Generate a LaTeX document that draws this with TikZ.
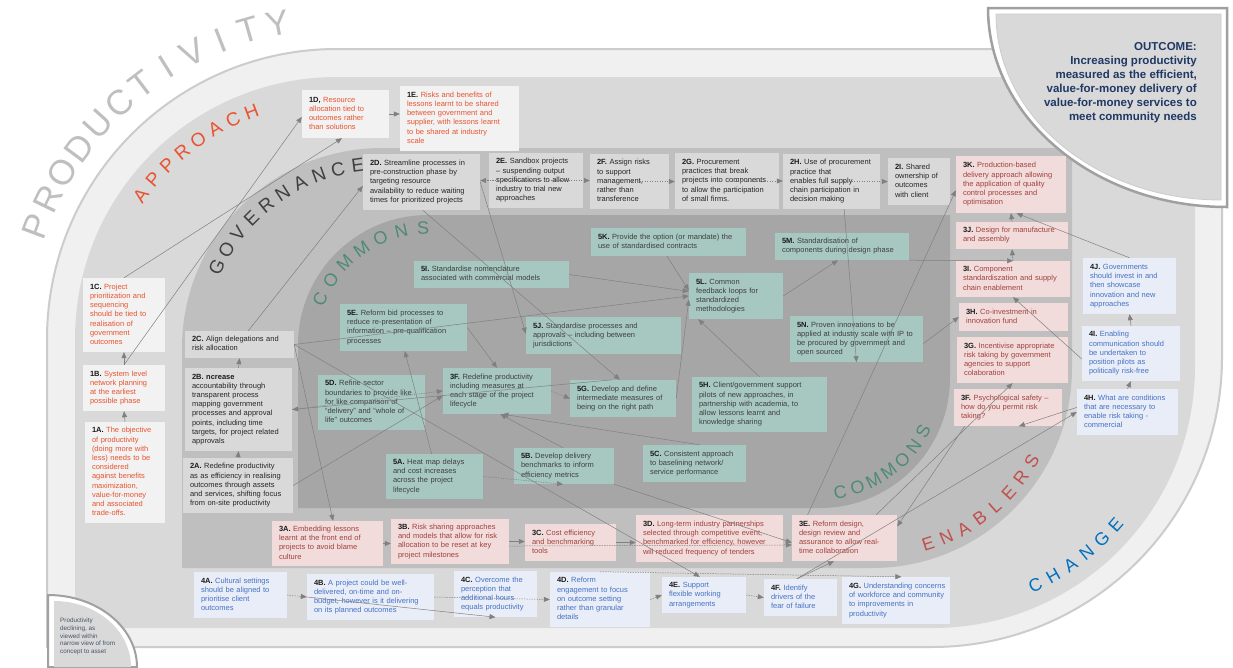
\documentclass[tikz,border=0pt]{standalone}
\usepackage{fontspec}
\setmainfont{Liberation Sans}
\usetikzlibrary{calc,arrows.meta}
\definecolor{bandAc}{HTML}{F0F0F0}
\definecolor{bandAl}{HTML}{CCCCCC}
\definecolor{bandBc}{HTML}{D9D9D9}
\definecolor{bandCc}{HTML}{BFBFBF}
\definecolor{bandDc}{HTML}{A6A6A6}
\definecolor{labc}{HTML}{1A1A1A}
\definecolor{apfill}{HTML}{F2F2F2}
\definecolor{aptext}{HTML}{E9532F}
\definecolor{govfill}{HTML}{D9D9D9}
\definecolor{govtext}{HTML}{262626}
\definecolor{enfill}{HTML}{F2DCDB}
\definecolor{entext}{HTML}{A0413D}
\definecolor{chfill}{HTML}{E9EDF7}
\definecolor{chtext}{HTML}{4472C4}
\definecolor{cmfill}{HTML}{A7C8C0}
\definecolor{cmtext}{HTML}{3F3F3F}
\definecolor{lineg}{HTML}{808080}
\definecolor{prodc}{HTML}{BFBFBF}
\definecolor{govword}{HTML}{404040}
\definecolor{comword}{HTML}{4E8B76}
\definecolor{enword}{HTML}{C0504D}
\definecolor{chword}{HTML}{0070C0}
\definecolor{outc}{HTML}{1F3864}
\definecolor{discc}{HTML}{44546A}
\definecolor{framec}{HTML}{A0A0A0}
\newcommand{\lb}[1]{\textcolor{labc}{\bfseries #1}}
\newcommand{\bx}[7]{%
  \pgfmathsetmacro\bw{#5-#3}%
  \pgfmathsetmacro\bh{#6-#4}%
  \pgfmathsetmacro\btw{#5-#3-14}%
  \pgfmathsetmacro\bcx{(#3+#5)/2}%
  \pgfmathsetmacro\bcy{(#4+#6)/2}%
  \node[box,#2,minimum width=\bw pt,minimum height=\bh pt,text width=\btw pt] (#1) at (\bcx,\bcy) {\begin{tabular}{@{}l@{}}#7\end{tabular}};%
}
\newcommand{\arcTL}[8]{%
  \foreach \ch [count=\i from 0] in {#8} {%
    \pgfmathsetmacro\ang{#5+\i*(#6)}%
    \pgfmathsetmacro\rot{-\ang-90}%
    \node[#7,rotate=\rot] (#1\i) at ($(#2,#3)+(\ang:#4)$) {\ch};
  }}
\newcommand{\arcBR}[8]{%
  \foreach \ch [count=\i from 0] in {#8} {%
    \pgfmathsetmacro\ang{#5+\i*(#6)}%
    \pgfmathsetmacro\rot{90-\ang}%
    \node[#7,rotate=\rot] (#1\i) at ($(#2,#3)+(\ang:#4)$) {\ch};
  }}
\begin{document}
\begin{tikzpicture}[x=1pt,y=-1pt,
  box/.style={inner xsep=0pt,inner ysep=1pt,align=left,font=\fontsize{7.5}{9.2}\selectfont,draw=none},
  sAp/.style={fill=apfill,text=aptext},
  sGv/.style={fill=govfill,text=govtext},
  sEn/.style={fill=enfill,text=entext},
  sCh/.style={fill=chfill,text=chtext},
  sCm/.style={fill=cmfill,text=cmtext},
  wProd/.style={font=\fontsize{35}{35}\selectfont,text=prodc,inner sep=0pt},
  wAp/.style={font=\fontsize{19}{19}\selectfont,text=aptext,inner sep=0pt},
  wGv/.style={font=\fontsize{19}{19}\selectfont,text=govword,inner sep=0pt},
  wCm/.style={font=\fontsize{18}{18}\selectfont,text=comword,inner sep=0pt},
  wEn/.style={font=\fontsize{18}{18}\selectfont,text=enword,inner sep=0pt},
  wCh/.style={font=\fontsize{18}{18}\selectfont,text=chword,inner sep=0pt},
  cn/.style={draw=lineg,line width=0.5pt,-{Triangle[length=6pt,width=5pt]}},
  cd/.style={cn,dash pattern=on 1.3pt off 1.2pt}]
\useasboundingbox (0,0) rectangle (1233,667);
\fill[white] (0,0) rectangle (1233,667);
% bands
\path[fill=bandAc,draw=bandAl,line width=2pt] (47,647) -- (47,339) arc[start angle=180,end angle=270,radius=290] -- (1222,49) -- (1222,357) arc[start angle=0,end angle=90,radius=290] -- cycle;
\path[fill=bandBc] (75,628) -- (75,339) arc[start angle=180,end angle=270,radius=262] -- (1195,77) -- (1195,366) arc[start angle=0,end angle=90,radius=262] -- cycle;
\path[fill=bandCc] (182,568) -- (182,348) arc[start angle=180,end angle=270,radius=200] -- (1072,148) -- (1072,368) arc[start angle=0,end angle=90,radius=200] -- cycle;
\path[fill=bandDc] (298,508) -- (298,345) arc[start angle=180,end angle=270,radius=130] -- (950,215) -- (950,378) arc[start angle=0,end angle=90,radius=130] -- cycle;
% outcome quarter
\path[fill=white,draw=framec,line width=2.5pt] (1227,8) -- (988,8) arc[start angle=180,end angle=90,x radius=239,y radius=199] -- cycle;
\path[fill=bandBc,draw=bandAl,line width=0.8pt] (1221,14) -- (996,14) arc[start angle=180,end angle=90,x radius=225,y radius=186] -- cycle;
\node[anchor=north east,align=right,inner sep=0pt,text=outc,font=\bfseries\fontsize{11.5}{14}\selectfont] (outcome) at (1197,42) {OUTCOME:\\Increasing productivity\\measured as the efficient,\\value-for-money delivery of\\value-for-money services to\\meet community needs};
% bottom-left quarter
\path[fill=white,draw=framec,line width=2pt] (48,667) -- (48,595) arc[start angle=270,end angle=360,x radius=89,y radius=72] -- cycle;
\path[fill=bandBc] (54,667) -- (54,601) arc[start angle=270,end angle=360,x radius=77,y radius=66] -- cycle;
\node[anchor=north west,align=left,inner sep=0pt,text=discc,font=\fontsize{6.3}{7.7}\selectfont] (decl) at (60,618) {Productivity\\declining, as\\viewed within\\narrow view of from\\concept to asset};
% ring words
\arcTL{pr}{337}{339}{321}{200.5}{5.35}{wProd}{P,R,O,D,U,C,T,I,V,I,T,Y}
\arcTL{ap}{337}{339}{243}{216.2}{4.74}{wAp}{A,P,P,R,O,A,C,H}
\arcTL{gv}{382}{348}{184}{206}{6.27}{wGv}{G,O,V,E,R,N,A,N,C,E}
\arcTL{ct}{428}{345}{117}{203}{10.77}{wCm}{C,O,M,M,O,N,S}
\arcBR{cb}{820}{378}{116}{80}{-8.8}{wCm}{C,O,M,M,O,N,S}
\arcBR{en}{872}{368}{185}{72.3}{-6}{wEn}{E,N,A,B,L,E,R,S}
\arcBR{chg}{933}{366}{242}{65}{-4.8}{wCh}{C,H,A,N,G,E}
% approach boxes
\bx{n1D}{sAp}{302}{90}{389}{138}{\lb{1D,} Resource\\allocation tied to\\outcomes rather\\than solutions}
\bx{n1E}{sAp}{400}{86}{519}{151}{\lb{1E.} Risks and benefits of\\lessons learnt to be shared\\between government and\\supplier, with lessons learnt\\to be shared at industry\\scale}
\bx{n1C}{sAp}{83}{278}{165}{352}{\lb{1C.} Project\\prioritization and\\sequencing\\should be tied to\\realisation of\\government\\outcomes}
\bx{n1B}{sAp}{83}{365}{165}{411}{\lb{1B.} System level\\network planning\\at the earliest\\possible phase}
\bx{n1A}{sAp}{85}{422}{165}{523}{\lb{1A.} The objective\\of productivity\\(doing more with\\less) needs to be\\considered\\against benefits\\maximization,\\value-for-money\\and associated\\trade-offs.}
% governance boxes
\bx{n2C}{sGv}{185}{331}{294}{358}{\lb{2C.} Align delegations and\\risk allocation}
\bx{n2B}{sGv}{185}{368}{292}{451}{\lb{2B. ncrease}\\accountability through\\transparent process\\mapping government\\processes and approval\\points, including time\\targets, for project related\\approvals}
\bx{n2A}{sGv}{183}{458}{293}{513}{\lb{2A.} Redefine productivity\\as as efficiency in realising\\outcomes through assets\\and services, shifting focus\\from on-site productivity}
\bx{n2D}{sGv}{363}{154}{480}{210}{\lb{2D.} Streamline processes in\\pre-construction phase by\\targeting resource\\availability to reduce waiting\\times for prioritized projects}
\bx{n2E}{sGv}{489}{153}{583}{208}{\lb{2E.} Sandbox projects\\– suspending output\\specifications to allow\\industry to trial new\\approaches}
\bx{n2F}{sGv}{590}{154}{669}{209}{\lb{2F.} Assign risks\\to support\\management,\\rather than\\transference}
\bx{n2G}{sGv}{675}{153}{779}{209}{\lb{2G.} Procurement\\practices that break\\projects into components\\to allow the participation\\of small firms.}
\bx{n2H}{sGv}{783}{154}{880}{209}{\lb{2H.} Use of procurement\\practice that\\enables full supply\\chain participation in\\decision making}
\bx{n2I}{sGv}{888}{158}{950}{205}{\lb{2I.} Shared\\ownership of\\outcomes\\with client}
% enablers boxes
\bx{n3K}{sEn}{956}{156}{1066}{213}{\lb{3K.} Production-based\\delivery approach allowing\\the application of quality\\control processes and\\optimisation}
\bx{n3J}{sEn}{956}{222}{1068}{249}{\lb{3J.} Design for manufacture\\and assembly}
\bx{n3I}{sEn}{956}{261}{1070}{297}{\lb{3I.} Component\\standardiszation and supply\\chain enablement}
\bx{n3H}{sEn}{959}{303}{1068}{331}{\lb{3H.} Co-investment in\\innovation fund}
\bx{n3G}{sEn}{957}{337}{1068}{383}{\lb{3G.} Incentivise appropriate\\risk taking by government\\agencies to support\\colaboration}
\bx{n3Fp}{sEn}{954}{389}{1062}{426}{\lb{3F.} Psychological safety –\\how do you permit risk\\taking?}
\bx{n3A}{sEn}{272}{521}{383}{566}{\lb{3A.} Embedding lessons\\learnt at the front end of\\projects to avoid blame\\culture}
\bx{n3B}{sEn}{391}{519}{509}{564}{\lb{3B.} Risk sharing approaches\\and models that allow for risk\\allocation to be reset at key\\project milestones}
\bx{n3C}{sEn}{525}{524}{616}{561}{\lb{3C.} Cost efficiency\\and benchmarking\\tools}
\bx{n3D}{sEn}{636}{515}{783}{562}{\lb{3D.} Long-term industry partnerships\\selected through competitive event,\\benchmarked for efficiency, however\\will reduced frequency of tenders}
\bx{n3E}{sEn}{792}{515}{897}{561}{\lb{3E.} Reform design,\\design review and\\assurance to allow real-\\time collaboration}
% change boxes
\bx{n4J}{sCh}{1083}{258}{1176}{314}{\lb{4J.} Governments\\should invest in and\\then showcase\\innovation and new\\approaches}
\bx{n4I}{sCh}{1082}{326}{1180}{381}{\lb{4I.} Enabling\\communication should\\be undertaken to\\position pilots as\\politically risk-free}
\bx{n4H}{sCh}{1077}{389}{1178}{435}{\lb{4H.} What are conditions\\that are necessary to\\enable risk taking -\\commercial}
\bx{n4A}{sCh}{194}{572}{287}{618}{\lb{4A.} Cultural settings\\should be aligned to\\prioritise client\\outcomes}
\bx{n4B}{sCh}{307}{574}{434}{620}{\lb{4B.} A project could be well-\\delivered, on-time and on-\\budget, however is it delivering\\on its planned outcomes}
\bx{n4C}{sCh}{454}{571}{537}{617}{\lb{4C.} Overcome the\\perception that\\additional hours\\equals productivity}
\bx{n4D}{sCh}{550}{572}{650}{627}{\lb{4D.} Reform\\engagement to focus\\on outcome setting\\rather than granular\\details}
\bx{n4E}{sCh}{662}{577}{746}{613}{\lb{4E.} Support\\flexible working\\arrangements}
\bx{n4F}{sCh}{764}{579}{837}{616}{\lb{4F.} Identify\\drivers of the\\fear of failure}
\bx{n4G}{sCh}{842}{577}{950}{624}{\lb{4G.} Understanding concerns\\of workforce and community\\to improvements in\\productivity}
% commons boxes
\bx{n5I}{sCm}{414}{261}{569}{288}{\lb{5I.} Standardise nomenclature\\associated with commercial models}
\bx{n5E}{sCm}{340}{304}{467}{351}{\lb{5E.} Reform bid processes to\\reduce re-presentation of\\information – pre-qualification\\processes}
\bx{n5J}{sCm}{526}{317}{681}{354}{\lb{5J.} Standardise processes and\\approvals – including between\\jurisdictions}
\bx{n5D}{sCm}{318}{375}{425}{430}{\lb{5D.} Refine sector\\boundaries to provide like\\for like comparison of\\“delivery” and “whole of\\life” outcomes}
\bx{n3Fc}{sCm}{443}{368}{551}{414}{\lb{3F.} Redefine productivity\\including measures at\\each stage of the project\\lifecycle}
\bx{n5G}{sCm}{570}{380}{676}{417}{\lb{5G.} Develop and define\\intermediate measures of\\being on the right path}
\bx{n5A}{sCm}{386}{454}{483}{499}{\lb{5A.} Heat map delays\\and cost increases\\across the project\\lifecycle}
\bx{n5B}{sCm}{514}{448}{614}{484}{\lb{5B.} Develop delivery\\benchmarks to inform\\efficiency metrics}
\bx{n5C}{sCm}{643}{445}{746}{482}{\lb{5C.} Consistent approach\\to baselining network/\\service performance}
\bx{n5K}{sCm}{591}{228}{746}{256}{\lb{5K.} Provide the option (or mandate) the\\use of standardised contracts}
\bx{n5L}{sCm}{689}{273}{783}{319}{\lb{5L.} Common\\feedback loops for\\standardized\\methodologies}
\bx{n5M}{sCm}{775}{233}{909}{260}{\lb{5M.} Standardisation of\\components during design phase}
\bx{n5N}{sCm}{790}{316}{923}{362}{\lb{5N.} Proven innovations to be\\applied at industry scale with IP to\\be procured by government and\\open sourced}
\bx{n5H}{sCm}{692}{377}{827}{432}{\lb{5H.} Client/government support\\pilots of new approaches, in\\partnership with academia, to\\allow lessons learnt and\\knowledge sharing}
% connectors: approach
\draw[cn] (n1A.north) -- (n1B.south);
\draw[cn] (n1B.north) -- (n1C.south);
\draw[cn] (n1C.north) -- ($(n1D.south west)!0.46!(n1D.south east)$);
\draw[cn] (n1B.north) -- ($(n1D.north west)!0.56!(n1D.south west)$);
\draw[cn] (n1D.east) -- (n1D.east -| n1E.west);
% governance
\draw[cd] (n2E.center) -- (n2E.center -| n2D.east);
\draw[cd] (n2E.center) -- (n2E.center -| n2F.west);
\draw[cd] (n2F.center) -- (n2F.center -| n2G.west);
\draw[cd] (n2G.center) -- (n2G.center -| n2H.west);
\draw[cd] (n2H.center) -- (n2H.center -| n2I.west);
\draw[cn] (n2A.north) -- (n2B.south);
\draw[cn] (n2B.north) -- (n2C.south);
\draw[cn] ($(n2C.north west)!0.58!(n2C.north east)$) -- ($(n2D.north west)!0.57!(n2D.south west)$);
\draw[cn] (n2C.east) -- ($(n5L.north west)!0.5!(n5L.south west)$);
\draw[cn] (n2C.east) -- ($(n4E.north west)!0.45!(n4E.north east)$);
\draw[cn] (n2C.east) -- ($(n3A.north west)!0.55!(n3A.north east)$);
\draw[cd] (n2B.east) -- (n3Fc.west);
\draw[cn] (n2A.east) -- ($(n3Fc.north west)!0.6!(n3Fc.south west)$);
\draw[cn] ($(n5G.north west)!0.4!(n5G.north east)$) -- (n2B.east);
\draw[cn] ($(n2D.south west)!0.51!(n2D.south east)$) -- ($(n5G.north west)!0.47!(n5G.north east)$);
\draw[cn] (n2D.east) -- ($(n5J.north west)!0.45!(n5J.south west)$);
% commons
\draw[cn] (n5E.east) -- (n3Fc.north);
\draw[cn] ($(n5A.north west)!0.47!(n5A.north east)$) -- ($(n5E.south west)!0.51!(n5E.south east)$);
\draw[cd] (n5A.east) -- ($(n5B.south west)!0.49!(n5B.south east)$);
\draw[cn] ($(n5B.north west)!0.49!(n5B.north east)$) -- ($(n3Fc.south west)!0.53!(n3Fc.south east)$);
\draw[cn] ($(n5C.north west)!0.55!(n5C.north east)$) -- ($(n3Fc.south west)!0.55!(n3Fc.south east)$);
\draw[cd] (n3Fc.east) -- (n5G.west);
\draw[cn] (n5I.east) -- ($(n5L.north west)!0.4!(n5L.south west)$);
\draw[cn] ($(n5K.south west)!0.49!(n5K.south east)$) -- ($(n5L.north west)!0.38!(n5L.south west)$);
\draw[cn] (n5G.east) -- ($(n5L.north west)!0.58!(n5L.south west)$);
\draw[cn] ($(n5H.north west)!0.5!(n5H.north east)$) -- ($(n5L.south west)!0.1!(n5L.south east)$);
\draw[cn] (n5L.east) -- ($(n5M.south west)!0.47!(n5M.south east)$);
\draw[cn] ($(n2H.south west)!0.63!(n2H.south east)$) -- ($(n5N.south west)!0.5!(n5N.south east)$);
\draw[cn] (n5M.south east) -- ($(n3I.north west)!0.5!(n3I.north east)$);
% enablers / change right
\draw[cn] (n3I.north) -- (n3J.south);
\draw[cn] (n3J.north) -- (n3K.south);
\draw[cn] (n4J.north) -- ($(n3K.south west)!0.55!(n3K.south east)$);
\draw[cn] (n4I.north) -- (n4J.south);
\draw[cn] (n4H.north) -- (n4I.south);
\draw[cn] ($(n4I.north west)!0.6!(n4I.south west)$) -- (n3I.south);
\draw[cn] ($(n5N.north east)!0.6!(n5N.south east)$) -- (n3H.west);
\draw[cn] ($(n3E.north west)!0.15!(n3E.north east)$) -- ($(n3K.north west)!0.6!(n3K.south west)$);
\draw[cn] ($(n3Fp.south west)!0.1!(n3Fp.south east)$) -- ($(n3E.north east)!0.25!(n3E.south east)$);
\draw[cn] ($(n3E.north west)!0.8!(n3E.north east)$) -- (n3G.south);
\draw[cn] ($(n4F.north west)!0.45!(n4F.north east)$) -- ($(n3E.south west)!0.4!(n3E.south east)$);
\draw[cn] ($(n4F.north west)!0.45!(n4F.north east)$) -- ($(n4H.north west)!0.5!(n4H.south west)$);
\draw[cn] ($(n4H.north west)!0.4!(n4H.south west)$) -- ($(n3Fp.south west)!0.6!(n3Fp.south east)$);
% bottom rows
\draw[cn] (n3A.east) -- (n3A.east -| n3B.west);
\draw[cn] (n3B.east) -- (n3B.east -| n3C.west);
\draw[cn] (n3C.east) -- (n3C.east -| n3D.west);
\draw[cd] ($(n3B.north east)!0.6!(n3B.south east)$) -- ($(n3E.north west)!0.65!(n3E.south west)$);
\draw[cn] (n5B.south east) -- ($(n3E.north west)!0.6!(n3E.south west)$);
\draw[cd] (n4A.east) -- (n4B.west);
\draw[cn] (n4B.west) -- ($(n4C.south west)!0.5!(n4C.south east)$);
\draw[cd] (n4B.east) -- (n4D.west);
\draw[cd] (n4D.east) -- (n4E.west);
\draw[cd] (n4E.east) -- (n4F.west);
\draw[cd] ($(n4D.north west)!0.5!(n4D.north east)$) -- ($(n4G.north west)!0.55!(n4G.north east)$);
\end{tikzpicture}
\end{document}
